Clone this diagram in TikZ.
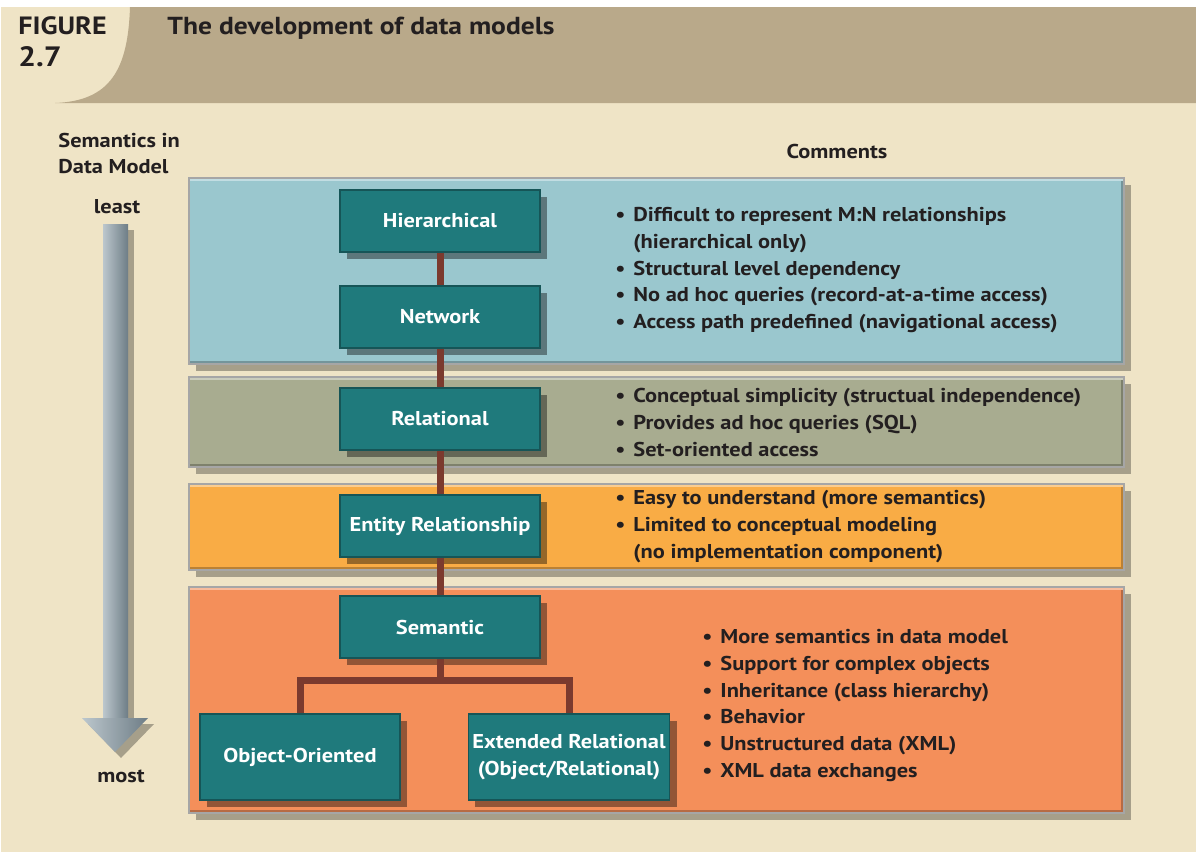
\documentclass[tikz,border=0pt]{standalone}
\usepackage{fontspec}
\setmainfont{PT Sans}[FakeStretch=1.12]
\usetikzlibrary{shadows}

\definecolor{cream}{HTML}{EFE4C6}
\definecolor{headtan}{HTML}{B9A98A}
\definecolor{ink}{HTML}{231F20}
\definecolor{blueband}{HTML}{9AC7CE}
\definecolor{oliveband}{HTML}{A8AC90}
\definecolor{yellowband}{HTML}{F9AC45}
\definecolor{orangeband}{HTML}{F48F5A}
\definecolor{modelteal}{HTML}{1F7A7C}
\definecolor{linkbrown}{HTML}{7B3A2E}
\definecolor{arrowlight}{HTML}{BCC7CD}
\definecolor{arrowdark}{HTML}{6E7D86}

\newcommand{\itembullet}{\makebox[9pt][l]{•}}
\newcommand{\itemhang}{\hspace*{9pt}}

\begin{document}
\begin{tikzpicture}[x=0.5pt, y=-0.5pt, text=ink,
  font=\bfseries\fontsize{10}{13.35}\selectfont,
  model/.style={fill=modelteal, draw=modelteal!70!black, line width=0.6pt,
    text=white, minimum width=100pt, minimum height=31pt, inner sep=2pt,
    align=center, drop shadow={shadow xshift=3.5pt, shadow yshift=-3.5pt,
    opacity=.4, fill=black}},
  link/.style={draw=linkbrown, line width=3.5pt},
  notes/.style={anchor=north west, align=left, inner sep=0pt},
  label/.style={inner sep=0pt}]

\useasboundingbox (0,0) rectangle (1196,852);
\fill[white] (0,0) rectangle (1196,852);
\fill[cream] (1,7) rectangle (1196,852);

% header
\fill[headtan] (130,7) .. controls (128,70) and (110,101) .. (55,103)
  -- (1196,103) -- (1196,7) -- cycle;
\node[label, anchor=base west, font=\bfseries\fontsize{12.5}{15}\selectfont] (fig) at (18,34) {FIGURE};
\node[label, anchor=base west, font=\bfseries\fontsize{14}{15}\selectfont] (fignum) at (18,66) {2.7};
\node[label, anchor=base west, font=\bfseries\fontsize{12.3}{15}\selectfont] (title) at (167,34) {The development of data models};

% bands
\foreach \top/\bot/\col in {178/364/blueband, 377/467/oliveband,
    484/570/yellowband, 587/813/orangeband} {
  \fill[black, opacity=.3] (196,\top+7) rectangle (1131,\bot+7);
  \fill[\col] (189,\top) rectangle (1124,\bot);
  \draw[\col!75!black, line width=2pt] (1123,\top+1) -- (1123,\bot-1) -- (190,\bot-1);
  \draw[\col!60!white, line width=2pt] (190,\top+1) -- (1123,\top+1);
  \draw[black!35, line width=0.6pt] (189,\top) rectangle (1124,\bot);
}

% semantics arrow
\fill[black, opacity=.3] (109,230) rectangle (134,722);
\fill[black, opacity=.3] (88,724) -- (154,724) -- (121,758) -- cycle;
\shade[left color=arrowlight, right color=arrowdark] (103,224) rectangle (128,719);
\shade[left color=arrowlight, right color=arrowdark]
  (82,718) -- (148,718) -- (115,752) -- cycle;

\node[label, anchor=base west] (semantics) at (58,147) {Semantics in};
\node[label, anchor=base west] (datamodel) at (58,173) {Data Model};
\node[label, anchor=base] (least) at (117,213) {least};
\node[label, anchor=base] (most) at (121,782) {most};
\node[label, anchor=base] (comments) at (837,158) {Comments};

% models
\node[model] (hier) at (440,221) {Hierarchical};
\node[model] (net) at (440,317) {Network};
\node[model] (rel) at (440,419) {Relational};
\node[model] (er) at (440,526) {Entity Relationship};
\node[model] (sem) at (440,627) {Semantic};
\node[model, minimum height=43pt] (oo) at (300,757) {Object-Oriented};
\node[model, minimum height=43pt] (ext) at (569,757) {Extended Relational\\(Object/Relational)};
\coordinate (fork) at (440,680);

\draw[link] (hier) -- (net);
\draw[link] (net) -- (rel);
\draw[link] (rel) -- (er);
\draw[link] (er) -- (sem);
\draw[link] (sem) -- (fork) -| (oo);
\draw[link] (fork) -| (ext);

% comments
\node[notes] (hiernotes) at (615,207) {%
  \itembullet Difficult to represent M:N relationships\\
  \itemhang(hierarchical only)\\
  \itembullet Structural level dependency\\
  \itembullet No ad hoc queries (record-at-a-time access)\\
  \itembullet Access path predefined (navigational access)};
\node[notes] (relnotes) at (615,388) {%
  \itembullet Conceptual simplicity (structual independence)\\
  \itembullet Provides ad hoc queries (SQL)\\
  \itembullet Set-oriented access};
\node[notes] (ernotes) at (615,490) {%
  \itembullet Easy to understand (more semantics)\\
  \itembullet Limited to conceptual modeling\\
  \itemhang(no implementation component)};
\node[notes] (semnotes) at (702,629) {%
  \itembullet More semantics in data model\\
  \itembullet Support for complex objects\\
  \itembullet Inheritance (class hierarchy)\\
  \itembullet Behavior\\
  \itembullet Unstructured data (XML)\\
  \itembullet XML data exchanges};
\end{tikzpicture}
\end{document}
